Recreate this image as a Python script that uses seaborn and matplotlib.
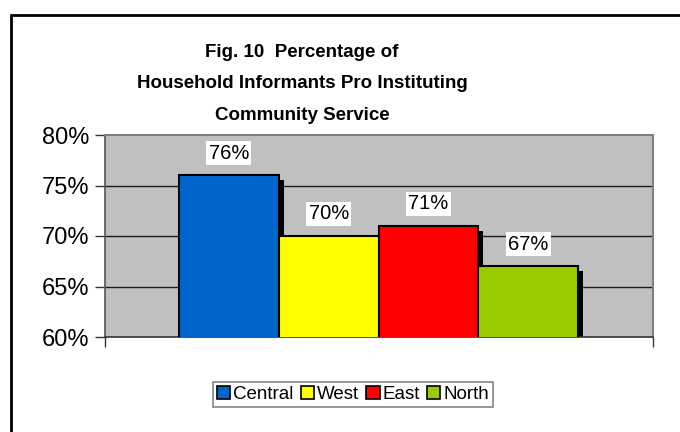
import matplotlib
matplotlib.use("Agg")
import matplotlib.pyplot as plt
import matplotlib.transforms as mtransforms
from matplotlib.lines import Line2D
from matplotlib.patches import Patch
import seaborn as sns
import pandas as pd

categories = ["Central", "West", "East", "North"]
values = [0.76, 0.70, 0.71, 0.67]
labels = ["76%", "70%", "71%", "67%"]
colors = ["#0066CC", "#FFFF00", "#FF0000", "#99CC00"]
yticks = [0.60, 0.65, 0.70, 0.75, 0.80]
ytick_labels = ["60%", "65%", "70%", "75%", "80%"]
title = "Fig. 10  Percentage of\nHousehold Informants Pro Instituting\nCommunity Service"

sns.set_theme(style="white")
plt.rcParams["font.family"] = ["Liberation Sans", "DejaVu Sans"]
plt.rcParams["text.color"] = "black"
plt.rcParams["xtick.color"] = "black"
plt.rcParams["ytick.color"] = "black"
plt.rcParams["axes.labelcolor"] = "black"

W, H = 680, 432
fig = plt.figure(figsize=(6.8, 4.32), dpi=100)
ax = fig.add_axes([105 / W, 1 - 337 / H, (653 - 105) / W, (337 - 135) / H])
ax.set_facecolor("#C0C0C0")

df = pd.DataFrame({"cat": categories, "val": values})

# shadows
sns.barplot(data=df, x="cat", y="val", color="black", width=1.0, ax=ax,
            saturation=1, legend=False, zorder=2)
shadow_patches = list(ax.patches)
off = mtransforms.ScaledTranslation(5 / 100, -5 / 100, fig.dpi_scale_trans)
for p in shadow_patches:
    p.set_transform(ax.transData + off)
    p.set_edgecolor("none")
    p.set_facecolor("black")

# bars
sns.barplot(data=df, x="cat", y="val", hue="cat", palette=colors, width=1.0,
            ax=ax, saturation=1, legend=False, zorder=3,
            edgecolor="black", linewidth=1.5)

ax.set_ylim(0.60, 0.80)
ax.set_xlim(-1.242, 4.252)
ax.set_yticks(yticks)
ax.set_yticklabels(ytick_labels, fontsize=17)
ax.set_xticks([-1.242, 4.252])
ax.set_xticklabels(["", ""])
ax.set_xlabel("")
ax.set_ylabel("")
ax.tick_params(axis="y", direction="out", length=7, width=1, color="#333333",
               left=True, pad=4, labelcolor="black")
ax.tick_params(axis="x", direction="out", length=7, width=1, color="#333333",
               bottom=True)
for y in yticks[1:-1]:
    ax.axhline(y, color="#1a1a1a", linewidth=1, zorder=1)

for s in ["top", "right"]:
    ax.spines[s].set_color("#808080")
    ax.spines[s].set_linewidth(1.5)
ax.spines["left"].set_color("#555555")
ax.spines["bottom"].set_color("#333333")
ax.spines["left"].set_linewidth(1.2)
ax.spines["bottom"].set_linewidth(1.2)

for i, (v, lab) in enumerate(zip(values, labels)):
    ax.annotate(lab, xy=(i, v), xytext=(0, 16), textcoords="offset points",
                ha="center", va="center", fontsize=14.5, zorder=5,
                color="black",
                bbox=dict(boxstyle="square,pad=0.12", facecolor="white",
                          edgecolor="none"))

fig.text(302 / W, 1 - 84 / H, title, ha="center", va="center",
         fontsize=13.5, fontweight="bold", linespacing=2.1, color="black")

handles = [Patch(facecolor=c, edgecolor="black", linewidth=1.2) for c in colors]
leg = fig.legend(handles, categories, loc="center",
                 bbox_to_anchor=(353 / W, 1 - 394.5 / H), ncol=4,
                 fontsize=13.5, frameon=True, fancybox=False,
                 handlelength=0.7, handleheight=0.7, handletextpad=0.15,
                 columnspacing=0.4, borderpad=0.2, borderaxespad=0)
leg.get_frame().set_edgecolor("#666666")
leg.get_frame().set_linewidth(1.2)
for t in leg.get_texts():
    t.set_color("black")

fig.add_artist(Line2D([11 / W, 11 / W], [0, 1 - 15 / H], color="black",
                      linewidth=2, transform=fig.transFigure))
fig.add_artist(Line2D([11 / W, 1], [1 - 15 / H, 1 - 15 / H], color="black",
                      linewidth=2, transform=fig.transFigure))

fig.savefig("out.png", dpi=100, facecolor="white")
